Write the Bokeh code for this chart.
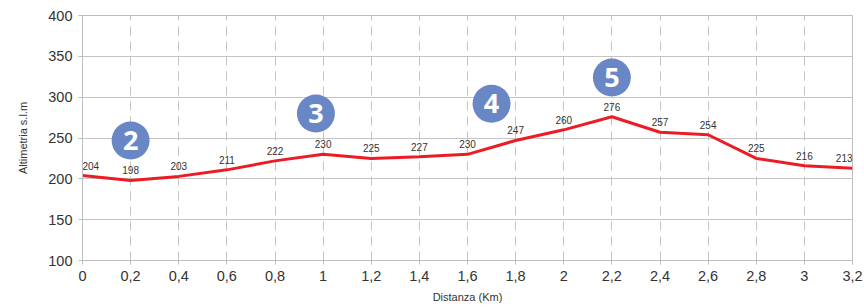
from bokeh.plotting import figure
from bokeh.models import FixedTicker, ColumnDataSource, Label
from bokeh.embed import file_html
from bokeh.resources import INLINE
from bokeh.core.properties import value

dist = [0, 0.2, 0.4, 0.6, 0.8, 1.0, 1.2, 1.4, 1.6, 1.8, 2.0, 2.2, 2.4, 2.6, 2.8, 3.0, 3.2]
alt = [204, 198, 203, 211, 222, 230, 225, 227, 230, 247, 260, 276, 257, 254, 225, 216, 213]
x_ticks = [0, 0.2, 0.4, 0.6, 0.8, 1.0, 1.2, 1.4, 1.6, 1.8, 2.0, 2.2, 2.4, 2.6, 2.8, 3.0, 3.2]
x_tick_labels = ["0", "0,2", "0,4", "0,6", "0,8", "1", "1,2", "1,4", "1,6", "1,8", "2", "2,2", "2,4", "2,6", "2,8", "3", "3,2"]
y_ticks = [100, 150, 200, 250, 300, 350, 400]
marker_x = [0.2, 0.97, 1.70, 2.2]
marker_y = [247, 280, 292, 324]
marker_txt = ["2", "3", "4", "5"]

FONT = "Liberation Sans"

p = figure(width=864, height=307, output_backend="svg", toolbar_location=None,
           x_range=(0, 3.2), y_range=(100, 400),
           min_border_left=82, min_border_right=12, min_border_top=15, min_border_bottom=47)

p.background_fill_color = "white"
p.border_fill_color = "white"
p.outline_line_color = "#bdbdbd"
p.outline_line_width = 1

p.xgrid.grid_line_color = "#c4c4c4"
p.xgrid.grid_line_dash = "9 6"
p.ygrid.grid_line_color = "#c4c4c4"

p.xaxis.ticker = FixedTicker(ticks=x_ticks)
p.xaxis.major_label_overrides = {t: l for t, l in zip(x_ticks, x_tick_labels)}
p.yaxis.ticker = FixedTicker(ticks=y_ticks)

for ax in (p.xaxis, p.yaxis):
    ax.axis_line_color = "#bdbdbd"
    ax.major_tick_line_color = "#bdbdbd"
    ax.major_tick_in = 0
    ax.major_tick_out = 4
    ax.minor_tick_line_color = None
    ax.major_label_text_font = FONT
    ax.major_label_text_font_size = "14.5px"
    ax.major_label_text_color = "#333333"
    ax.axis_label_text_font = FONT
    ax.axis_label_text_font_size = "11px"
    ax.axis_label_text_font_style = "normal"
    ax.axis_label_text_color = "#333333"

p.xaxis.axis_label = "Distanza (Km)"
p.xaxis.major_label_standoff = 6
p.xaxis.axis_label_standoff = 7
p.yaxis.axis_label = "Altimetria s.l.m"
p.yaxis.major_label_standoff = 6
p.yaxis.axis_label_standoff = 16

src = ColumnDataSource(dict(x=dist, y=alt))
p.line("x", "y", source=src, line_color="#ec1c24", line_width=3)
n = len(dist)
for i, (xv, yv) in enumerate(zip(dist, alt)):
    align = "left" if i == 0 else ("right" if i == n - 1 else "center")
    p.add_layout(Label(x=xv, y=yv, text=str(yv), y_offset=6,
                       text_align=align, text_baseline="bottom",
                       text_font=FONT, text_font_size="10px", text_color="#333333"))

msrc = ColumnDataSource(dict(x=marker_x, y=marker_y, t=marker_txt))
p.scatter("x", "y", source=msrc, size=38, fill_color="#6a87c5", line_color=None)
p.text("x", "y", text="t", source=msrc, text_align="center", text_baseline="middle",
       text_font=value("Open Sans"), text_font_style="bold", text_font_size="27px", text_color="white")

open("out.html", "w").write(file_html(p, INLINE))
